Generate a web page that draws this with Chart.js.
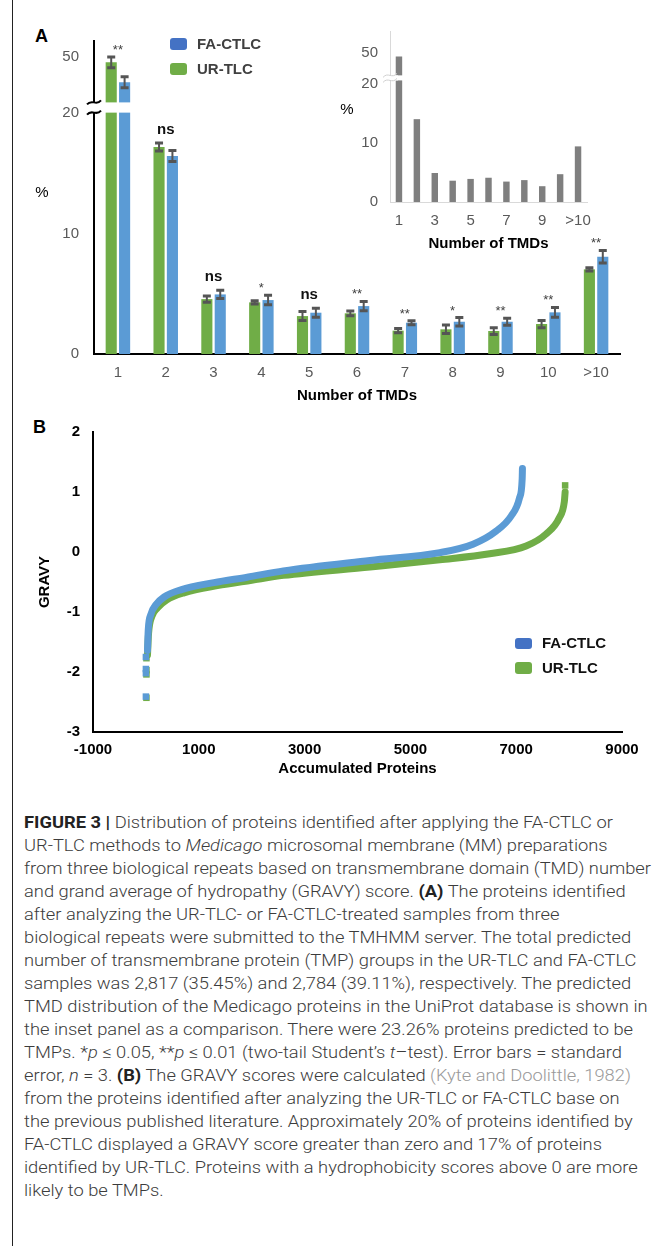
<!DOCTYPE html>
<html>
<head>
<meta charset="utf-8">
<script src="https://cdn.jsdelivr.net/npm/chart.js@4.4.1/dist/chart.umd.min.js"></script>
<style>
  html, body { margin: 0; padding: 0; background: #fff; }
  body { width: 668px; height: 1246px; position: relative; overflow: hidden; font-family: "Liberation Sans", Arial, sans-serif; }
  canvas { position: absolute; }
  #border { position: absolute; left: 12px; top: 0; width: 1px; height: 1246px; background: #222; }
  .panel { position: absolute; font-weight: bold; font-size: 18px; line-height: 18px; color: #000; }
  #caption { position: absolute; left: 24px; top: 811px; font-family: Roboto, "Liberation Sans", sans-serif; font-weight: 300; font-size: 17px; line-height: 23px; color: #3c3c3c; }
  #caption div { white-space: nowrap; width: max-content; transform-origin: 0 0; }
  #caption b { font-weight: 700; color: #222; }
  #caption .ref { color: #9a9a9a; }
</style>
</head>
<body>
<div id="border"></div>
<div class="panel" style="left:35px; top:27px;">A</div>
<div class="panel" style="left:33px; top:418px;">B</div>

<canvas id="chartA" width="668" height="410" style="left:0; top:0;"></canvas>
<canvas id="inset" width="300" height="250" style="left:330px; top:10px;"></canvas>
<canvas id="chartB" width="668" height="380" style="left:0; top:410px;"></canvas>

<div id="caption">
<div><b>FIGURE 3 |</b> Distribution of proteins identified after applying the FA-CTLC or</div>
<div>UR-TLC methods to <i>Medicago</i> microsomal membrane (MM) preparations</div>
<div>from three biological repeats based on transmembrane domain (TMD) number</div>
<div>and grand average of hydropathy (GRAVY) score. <b>(A)</b> The proteins identified</div>
<div>after analyzing the UR-TLC- or FA-CTLC-treated samples from three</div>
<div>biological repeats were submitted to the TMHMM server. The total predicted</div>
<div>number of transmembrane protein (TMP) groups in the UR-TLC and FA-CTLC</div>
<div>samples was 2,817 (35.45%) and 2,784 (39.11%), respectively. The predicted</div>
<div>TMD distribution of the Medicago proteins in the UniProt database is shown in</div>
<div>the inset panel as a comparison. There were 23.26% proteins predicted to be</div>
<div>TMPs. *<i>p</i> ≤ 0.05, **<i>p</i> ≤ 0.01 (two-tail Student’s <i>t</i>–test). Error bars = standard</div>
<div>error, <i>n</i> = 3. <b>(B)</b> The GRAVY scores were calculated <span class="ref">(Kyte and Doolittle, 1982)</span></div>
<div>from the proteins identified after analyzing the UR-TLC or FA-CTLC base on</div>
<div>the previous published literature. Approximately 20% of proteins identified by</div>
<div>FA-CTLC displayed a GRAVY score greater than zero and 17% of proteins</div>
<div>identified by UR-TLC. Proteins with a hydrophobicity scores above 0 are more</div>
<div>likely to be TMPs.</div>
</div>

<script>
// ---- data: panel A (TMD distribution, %) ----
const categories = ['1', '2', '3', '4', '5', '6', '7', '8', '9', '10', '>10'];
const urTlc = [46.6, 17.2, 4.56, 4.29, 3.15, 3.38, 1.94, 2.05, 1.91, 2.49, 7.03];
const urTlcErr = [3.6, 0.33, 0.26, 0.14, 0.37, 0.2, 0.18, 0.35, 0.28, 0.3, 0.14];
const faCtlc = [33.4, 16.45, 4.95, 4.48, 3.43, 3.98, 2.6, 2.68, 2.68, 3.46, 8.08];
const faCtlcErr = [3.6, 0.45, 0.35, 0.39, 0.37, 0.39, 0.17, 0.35, 0.3, 0.41, 0.52];
const significance = ['**', 'ns', 'ns', '*', 'ns', '**', '**', '*', '**', '**', '**'];
const yTicksA = [0, 10, 20, 50];

// inset: UniProt Medicago proteins
const uniprot = [45.0, 14.0, 4.9, 3.6, 3.9, 4.1, 3.45, 3.7, 2.67, 4.7, 9.4];
const yTicksInset = [0, 10, 20, 50];

// ---- data: panel B (GRAVY vs accumulated proteins) ----
const faCtlcGravy = [
  {x: 30, y: -1.64}, {x: 45, y: -1.29}, {x: 94, y: -1.04}, {x: 188, y: -0.88},
  {x: 345, y: -0.75}, {x: 660, y: -0.63}, {x: 1286, y: -0.51}, {x: 1915, y: -0.42},
  {x: 2600, y: -0.315}, {x: 4237, y: -0.14}, {x: 5556, y: -0.01},
  {x: 6183, y: 0.13}, {x: 6623, y: 0.35}, {x: 6905, y: 0.60}, {x: 7062, y: 0.90},
  {x: 7113, y: 1.22}, {x: 7118, y: 1.39}
];
const urTlcGravy = [
  {x: 30, y: -1.72}, {x: 50, y: -1.36}, {x: 110, y: -1.08}, {x: 220, y: -0.93},
  {x: 390, y: -0.80}, {x: 720, y: -0.68}, {x: 1350, y: -0.56}, {x: 2000, y: -0.47},
  {x: 2600, y: -0.39}, {x: 4237, y: -0.25}, {x: 5556, y: -0.13},
  {x: 6497, y: -0.03}, {x: 7188, y: 0.10}, {x: 7565, y: 0.30}, {x: 7815, y: 0.57},
  {x: 7910, y: 0.84}, {x: 7925, y: 1.0}
];
const faCtlcOutliers = [{x: 0, y: -1.75}, {x: 0, y: -1.95}, {x: 0, y: -2.02}, {x: 0, y: -2.41}];
const urTlcOutliers = [{x: 10, y: -1.77}, {x: 10, y: -1.97}, {x: 10, y: -2.04}, {x: 10, y: -2.43}, {x: 7925, y: 1.11}];
const xTicksB = [-1000, 1000, 3000, 5000, 7000, 9000];

const GREEN = '#70AD47';
const BLUE = '#5B9BD5';
const BLUE_KEY = '#4472C4';

Chart.defaults.font.family = '"Liberation Sans", Arial, sans-serif';

// broken axis: values above 20 are squeezed
function brkA(v) { return v <= 20 ? v : 20.9 + (v - 20) * 0.125; }
function brkI(v) { return v <= 20 ? v : 21.4 + (v - 20) * 0.127; }

function axisBreak(ctx, x, yTop, yBot, color) {
  ctx.fillStyle = '#fff';
  ctx.fillRect(x - 8, yTop, 16, yBot - yTop);
  ctx.strokeStyle = color;
  [yTop, yBot].forEach(py => {
    ctx.beginPath();
    ctx.moveTo(x - 7, py + 2);
    ctx.bezierCurveTo(x - 2, py - 4, x + 2, py + 4, x + 7, py - 2);
    ctx.stroke();
  });
}

function legendKey(ctx, x, y, h, color, text, textColor) {
  ctx.fillStyle = color;
  ctx.beginPath();
  ctx.roundRect(x, y, 17, h, 3);
  ctx.fill();
  ctx.fillStyle = textColor;
  ctx.font = 'bold 15px "Liberation Sans", Arial, sans-serif';
  ctx.textAlign = 'left';
  ctx.textBaseline = 'middle';
  ctx.fillText(text, x + 27, y + h / 2 + 0.5);
}

const extrasA = {
  id: 'extrasA',
  afterDatasetsDraw(chart) {
    const {ctx, chartArea: area, scales: {y}} = chart;
    ctx.save();
    // gap through the tall bars
    const gTop = y.getPixelForValue(20.9), gBot = y.getPixelForValue(20.05);
    ctx.fillStyle = '#fff';
    ctx.fillRect(area.left, gTop, area.right - area.left, gBot - gTop);
    ctx.lineWidth = 2;
    axisBreak(ctx, area.left, gTop, gBot, '#000');

    // error bars
    const sets = [[urTlc, urTlcErr], [faCtlc, faCtlcErr]];
    const tops = categories.map(() => Infinity);
    ctx.strokeStyle = '#555';
    sets.forEach(([vals, errs], di) => {
      chart.getDatasetMeta(di).data.forEach((bar, j) => {
        const yt = y.getPixelForValue(brkA(vals[j] + errs[j]));
        const yb = y.getPixelForValue(brkA(vals[j] - errs[j]));
        ctx.lineWidth = 2;
        ctx.beginPath();
        ctx.moveTo(bar.x, yt); ctx.lineTo(bar.x, yb);
        ctx.stroke();
        ctx.lineWidth = 3;
        ctx.beginPath();
        ctx.moveTo(bar.x - 4, yt); ctx.lineTo(bar.x + 4, yt);
        ctx.moveTo(bar.x - 4, yb); ctx.lineTo(bar.x + 4, yb);
        ctx.stroke();
        tops[j] = Math.min(tops[j], yt);
      });
    });

    // significance marks
    const xs = chart.scales.x;
    ctx.textAlign = 'center';
    ctx.textBaseline = 'alphabetic';
    significance.forEach((s, j) => {
      const cx = xs.getPixelForValue(j);
      if (s === 'ns') {
        ctx.font = 'bold 15px "Liberation Sans", Arial, sans-serif';
        ctx.fillStyle = '#111';
        ctx.fillText(s, cx, tops[j] - 9);
      } else {
        ctx.font = '13px "Liberation Sans", Arial, sans-serif';
        ctx.fillStyle = '#404040';
        ctx.fillText(s, cx, tops[j] - 3);
      }
    });

    // "%" and legend
    ctx.fillStyle = '#000';
    ctx.font = '15px "Liberation Sans", Arial, sans-serif';
    ctx.textAlign = 'center';
    ctx.textBaseline = 'middle';
    ctx.fillText('%', 42, 193);
    legendKey(ctx, 170, 38, 12, BLUE_KEY, 'FA-CTLC', '#404040');
    legendKey(ctx, 170, 63, 12, GREEN, 'UR-TLC', '#404040');
    ctx.restore();
  }
};

new Chart(document.getElementById('chartA'), {
  type: 'bar',
  data: {
    labels: categories,
    datasets: [
      {label: 'UR-TLC', data: urTlc.map(brkA), backgroundColor: GREEN, categoryPercentage: 0.56, barPercentage: 0.83},
      {label: 'FA-CTLC', data: faCtlc.map(brkA), backgroundColor: BLUE, categoryPercentage: 0.56, barPercentage: 0.83}
    ]
  },
  options: {
    responsive: false,
    animation: false,
    layout: {padding: {top: 41, right: 48, left: 0, bottom: 0}},
    plugins: {legend: {display: false}, tooltip: {enabled: false}},
    scales: {
      x: {
        grid: {display: false, drawTicks: false},
        border: {color: '#000', width: 2},
        ticks: {color: '#595959', font: {size: 15}, padding: 10, maxRotation: 0, autoSkip: false},
        title: {display: true, text: 'Number of TMDs', color: '#000', font: {size: 15, weight: 'bold'}, padding: {top: 0, bottom: 5}},
        afterFit: s => { s.height = 56; }
      },
      y: {
        min: 0, max: 26,
        grid: {display: false, drawTicks: false},
        border: {color: '#000', width: 2},
        afterBuildTicks: s => { s.ticks = yTicksA.map(v => ({value: brkA(v)})); },
        ticks: {color: '#595959', font: {size: 15}, padding: 15, callback: (v, i) => String(yTicksA[i])},
        afterFit: s => { s.width = 94; }
      }
    }
  },
  plugins: [extrasA]
});

const extrasInset = {
  id: 'extrasInset',
  afterDatasetsDraw(chart) {
    const {ctx, chartArea: area, scales: {y}} = chart;
    ctx.save();
    const gTop = y.getPixelForValue(21.4), gBot = y.getPixelForValue(20.55);
    ctx.fillStyle = '#fff';
    ctx.fillRect(area.left, gTop, area.right - area.left, gBot - gTop);
    ctx.lineWidth = 1;
    axisBreak(ctx, area.left, gTop, gBot, '#d0d0d0');
    ctx.fillStyle = '#000';
    ctx.font = '15px "Liberation Sans", Arial, sans-serif';
    ctx.textAlign = 'center';
    ctx.textBaseline = 'middle';
    ctx.fillText('%', 17, 100);
    ctx.restore();
  }
};

new Chart(document.getElementById('inset'), {
  type: 'bar',
  data: {
    labels: categories,
    datasets: [{label: 'UniProt', data: uniprot.map(brkI), backgroundColor: '#7F7F7F', categoryPercentage: 1, barPercentage: 0.36}]
  },
  options: {
    responsive: false,
    animation: false,
    layout: {padding: {top: 7, right: 43, left: 0, bottom: 0}},
    plugins: {legend: {display: false}, tooltip: {enabled: false}},
    scales: {
      x: {
        grid: {display: false, drawTicks: false},
        border: {color: '#d9d9d9', width: 1},
        ticks: {color: '#595959', font: {size: 15}, padding: 10, maxRotation: 0, autoSkip: false,
                callback: (v, i) => (i % 2 === 0 ? categories[i] : '')},
        title: {display: true, text: 'Number of TMDs', color: '#000', font: {size: 15, weight: 'bold'}, padding: {top: 0, bottom: 7}},
        afterFit: s => { s.height = 58; }
      },
      y: {
        min: 0, max: 28.9,
        grid: {display: false, drawTicks: false},
        border: {color: '#d9d9d9', width: 1},
        afterBuildTicks: s => { s.ticks = yTicksInset.map(v => ({value: brkI(v)})); },
        ticks: {color: '#595959', font: {size: 15}, padding: 12, callback: (v, i) => String(yTicksInset[i])},
        afterFit: s => { s.width = 60; }
      }
    }
  },
  plugins: [extrasInset]
});

const legendB = {
  id: 'legendB',
  afterDraw(chart) {
    const ctx = chart.ctx;
    ctx.save();
    legendKey(ctx, 515, 228, 11, BLUE_KEY, 'FA-CTLC', '#111');
    legendKey(ctx, 515, 252, 12, GREEN, 'UR-TLC', '#111');
    ctx.restore();
  }
};

const lineStyle = {showLine: true, borderWidth: 7, pointRadius: 0, cubicInterpolationMode: 'monotone', borderCapStyle: 'round', borderJoinStyle: 'round'};

new Chart(document.getElementById('chartB'), {
  type: 'scatter',
  data: {
    datasets: [
      {label: 'FA-CTLC', data: faCtlcOutliers, pointStyle: 'rect', pointRadius: 4.6, backgroundColor: BLUE, borderWidth: 0},
      Object.assign({label: 'FA-CTLC', data: faCtlcGravy, borderColor: BLUE}, lineStyle),
      {label: 'UR-TLC', data: urTlcOutliers, pointStyle: 'rect', pointRadius: 4.6, backgroundColor: GREEN, borderWidth: 0},
      Object.assign({label: 'UR-TLC', data: urTlcGravy, borderColor: GREEN}, lineStyle)
    ]
  },
  options: {
    responsive: false,
    animation: false,
    layout: {padding: {top: 16, right: 46, left: 0, bottom: 0}},
    plugins: {legend: {display: false}, tooltip: {enabled: false}},
    scales: {
      x: {
        type: 'linear', min: -1000, max: 9000,
        grid: {display: false, drawTicks: false},
        border: {color: '#000', width: 2},
        afterBuildTicks: s => { s.ticks = xTicksB.map(v => ({value: v})); },
        ticks: {color: '#000', font: {size: 15, weight: 'bold'}, padding: 9, maxRotation: 0, callback: v => String(v)},
        title: {display: true, text: 'Accumulated Proteins', color: '#000', font: {size: 15, weight: 'bold'}, padding: {top: 0, bottom: 12}},
        afterFit: s => { s.height = 58; }
      },
      y: {
        min: -3, max: 2,
        grid: {display: false, drawTicks: false},
        border: {color: '#000', width: 2},
        ticks: {stepSize: 1, color: '#000', font: {size: 15, weight: 'bold'}, padding: 13},
        title: {display: true, text: 'GRAVY', color: '#000', font: {size: 15, weight: 'bold'}, padding: {top: 36, bottom: 0}},
        afterFit: s => { s.width = 93; }
      }
    }
  },
  plugins: [legendB]
});

// caption lines: squeeze to the condensed width of the original
function fitCaption() {
  const lines = document.querySelectorAll('#caption div');
  lines.forEach(l => { l.style.transform = 'none'; });
  const s = 627 / lines[2].getBoundingClientRect().width;
  lines.forEach(l => { l.style.transform = 'scaleX(' + s + ')'; });
}
fitCaption();
if (document.fonts) document.fonts.ready.then(fitCaption);
</script>
</body>
</html>
